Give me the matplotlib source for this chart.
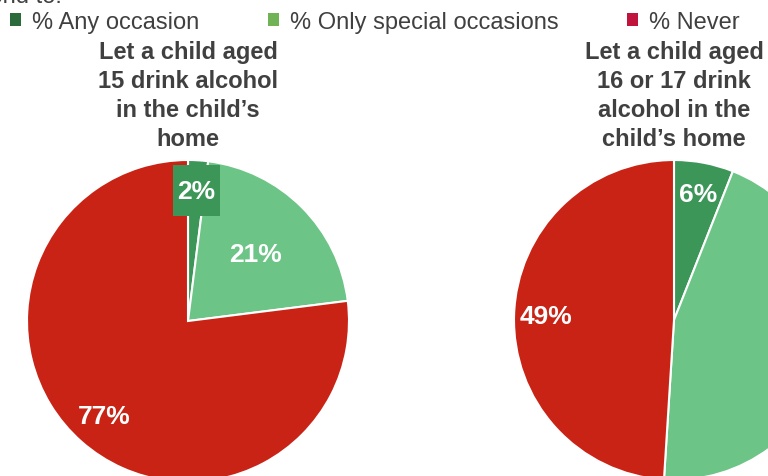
import matplotlib.pyplot as plt
import numpy as np
from matplotlib.patches import Patch, Rectangle

plt.rcParams['font.family'] = ['Liberation Sans', 'DejaVu Sans']

categories = ['% Any occasion', '% Only special occasions', '% Never']
age15 = [2, 21, 77]
age16_17 = [6, 45, 49]
titles = ["Let a child aged\n15 drink alcohol\nin the child\u2019s\nhome",
          "Let a child aged\n16 or 17 drink\nalcohol in the\nchild\u2019s home"]

slice_colors = ['#3C9658', '#6CC486', '#C92316']
legend_colors = ['#2B6B3B', '#6FB356', '#C0143C']
text_color = '#404040'

W, H = 768, 477
fig = plt.figure(figsize=(W / 100, H / 100), dpi=100)


def add_pie(cx, cy, r, values, title, dists, boxed):
    # pixel position (from top-left) -> figure fraction
    ax = fig.add_axes([(cx - r) / W, (H - cy - r) / H, 2 * r / W, 2 * r / H])
    wedges, _ = ax.pie(values, colors=slice_colors, startangle=90, counterclock=False,
                       radius=1, wedgeprops=dict(edgecolor='white', linewidth=1.5))
    ax.set_xlim(-1, 1)
    ax.set_ylim(-1, 1)
    ax.set_aspect('auto')
    ax.axis('off')
    for w, v, d, b in zip(wedges, values, dists, boxed):
        ang = np.deg2rad((w.theta1 + w.theta2) / 2)
        x, y = d * np.cos(ang), d * np.sin(ang)
        if b:
            bw, bh = 47 / r, 51 / r
            ax.add_patch(Rectangle((x - bw / 2, y - bh / 2), bw, bh,
                                   fc=w.get_facecolor(), ec='none', zorder=3))
        ax.text(x, y, f'{v}%', ha='center', va='center', zorder=4,
                color='white', fontsize=19, fontweight='bold')
    fig.text(cx / W, 1 - 96 / H, title, ha='center', va='center', fontsize=17,
             fontweight='bold', color=text_color, linespacing=1.32)


add_pie(188, 322, 161, age15, titles[0], [0.81, 0.59, 0.79], [True, False, False])
add_pie(674, 321, 160, age16_17, titles[1], [0.8, 0.97, 0.8], [False, False, False])

# cut-off heading at the very top
fig.text(62 / W, 1 - 3 / H, 'Parents tend to:', ha='right', va='baseline',
         fontsize=17, color=text_color)

handles = [Patch(facecolor=c, edgecolor='none') for c in legend_colors]
fig.legend(handles, categories, loc='center left', bbox_to_anchor=(10 / W, 1 - 23 / H),
           ncol=3, frameon=False, fontsize=17, handlelength=0.47, handleheight=0.47,
           handletextpad=0.47, columnspacing=2.9, borderpad=0, borderaxespad=0,
           labelcolor=text_color)

fig.savefig('out.png', dpi=100)
